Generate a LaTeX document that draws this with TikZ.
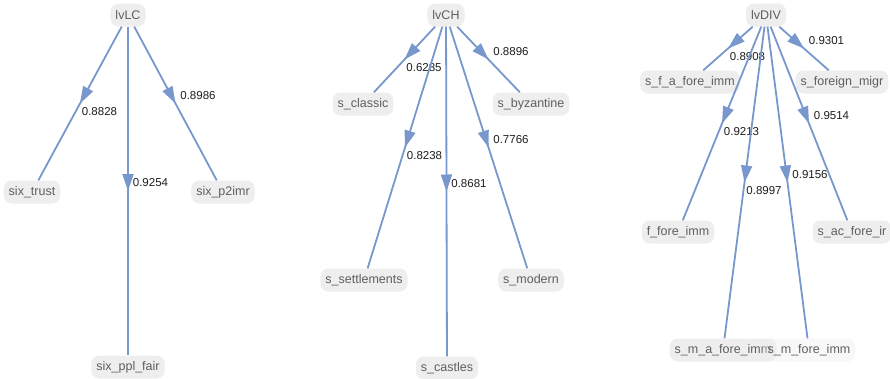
\documentclass[tikz,border=0pt]{standalone}
\usepackage{fontspec}
\setmainfont{Liberation Sans}
\usepackage{xcolor}
\usepackage{tikz}
\usetikzlibrary{arrows.meta,decorations.markings}
\definecolor{edgeBlue}{RGB}{120,152,205}
\definecolor{varFill}{RGB}{238,238,238}
\definecolor{varText}{RGB}{95,95,95}
\definecolor{loadText}{RGB}{30,30,30}

\begin{document}
\begin{tikzpicture}[x=1pt,y=-1pt,
  var/.style={fill=varFill, rounded corners=8pt, text=varText, inner xsep=5pt, inner ysep=0pt,
    minimum height=23pt, font=\fontsize{12.5}{14}\selectfont},
  load/.style={color=edgeBlue, line width=1.8pt, postaction={decorate},
    decoration={markings, mark=at position 0.5 with {\arrow{Triangle[length=17pt 0 0,width=11pt 0 0]}}}},
  lblL/.style={anchor=north west, text=loadText, inner sep=0pt, xshift=1pt, yshift=-3pt,
    font=\fontsize{11.5}{13}\selectfont},
  lblR/.style={anchor=south west, text=loadText, inner sep=0pt, xshift=4pt, yshift=3pt,
    font=\fontsize{11.5}{13}\selectfont}]
\useasboundingbox[fill=white] (0,0) rectangle (890,378);

% lvLC
\node[var] (lvLC) at (128,15) {lvLC};
\node[var] (sixtrust) at (32,192) {six\_trust};
\node[var] (sixpplfair) at (128,367) {six\_ppl\_fair};
\node[var] (sixptwoimr) at (223,192) {six\_p2imr};
\draw[load] (lvLC) -- node[lblL] {0.8828} (sixtrust);
\draw[load] (lvLC) -- node[lblR] {0.9254} (sixpplfair);
\draw[load] (lvLC) -- node[lblR] {0.8986} (sixptwoimr);

% lvCH
\node[var] (lvCH) at (446,15) {lvCH};
\node[var] (sclassic) at (363,104) {s\_classic};
\node[var] (sbyzantine) at (531,104) {s\_byzantine};
\node[var] (ssettlements) at (364,280) {s\_settlements};
\node[var] (scastles) at (447,368) {s\_castles};
\node[var] (smodern) at (531,280) {s\_modern};
\draw[load] (lvCH) -- node[lblL] {0.6285} (sclassic);
\draw[load] (lvCH) -- node[lblR] {0.8896} (sbyzantine);
\draw[load] (lvCH) -- node[lblL] {0.8238} (ssettlements);
\draw[load] (lvCH) -- node[lblR] {0.8681} (scastles);
\draw[load] (lvCH) -- node[lblR] {0.7766} (smodern);

% lvDIV
\node[var] (lvDIV) at (766,15) {lvDIV};
\node[var] (sfafore) at (690,82) {s\_f\_a\_fore\_imm};
\node[var] (sforeign) at (842,82) {s\_foreign\_migr};
\node[var] (ffore) at (678,232) {f\_fore\_imm};
\node[var] (sacfore) at (852,232) {s\_ac\_fore\_ir};
\node[var] (smafore) at (723,350) {s\_m\_a\_fore\_imm};
\node[var, fill opacity=0.4, text opacity=1] (smfore) at (809,350) {s\_m\_fore\_imm};
\draw[load] (lvDIV) -- node[lblL] {0.8908} (sfafore);
\draw[load] (lvDIV) -- node[lblR] {0.9301} (sforeign);
\draw[load] (lvDIV) -- node[lblL] {0.9213} (ffore);
\draw[load] (lvDIV) -- node[lblR] {0.9514} (sacfore);
\draw[load] (lvDIV) -- node[lblL] {0.8997} (smafore);
\draw[load] (lvDIV) -- node[lblR] {0.9156} (smfore);
\end{tikzpicture}
\end{document}
